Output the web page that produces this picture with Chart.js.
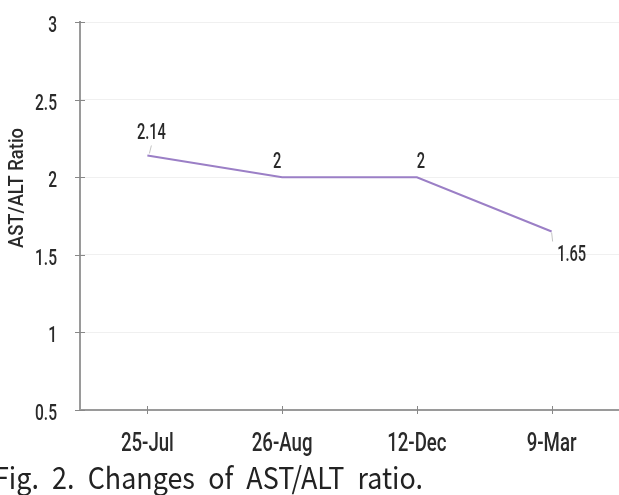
<!DOCTYPE html>
<html>
<head>
<meta charset="utf-8">
<script src="https://cdn.jsdelivr.net/npm/chart.js@4"></script>
<style>
    html, body { margin: 0; padding: 0; background: #fff; overflow: hidden; }
    #wrap { position: relative; width: 619px; height: 495px; }
    #caption {
        position: absolute; left: -6px; top: 458px;
        font-family: "Noto Sans CJK KR", "Noto Sans", sans-serif;
        font-size: 30px; font-weight: 400; color: #222;
        word-spacing: 8px; white-space: nowrap; line-height: 36px;
        transform-origin: 0 0;
    }
</style>
</head>
<body>
<div id="wrap">
    <canvas id="chart" width="619" height="495"></canvas>
    <div id="caption">Fig. 2. Changes of AST/ALT ratio.</div>
</div>
<script>
// chart data
const dates = ['25-Jul', '26-Aug', '12-Dec', '9-Mar'];
const ratios = [2.14, 2, 2, 1.65];
const yTicks = [0.5, 1, 1.5, 2, 2.5, 3];
const yTitle = 'AST/ALT Ratio';

const FONT = 'Roboto, "DejaVu Sans", sans-serif';
const TEXT = '#2a2a2a';

// caption is squeezed to the width it has in the original
const cap = document.getElementById('caption');
cap.style.transform = 'scaleX(' + (429 / cap.getBoundingClientRect().width) + ')';

// the original uses a tall condensed face: work out a horizontal squeeze
// from a sample string and the width it takes in the original
const measureCtx = document.createElement('canvas').getContext('2d');
function squeeze(sample, size, target) {
    measureCtx.font = '500 ' + size + 'px ' + FONT;
    return target / measureCtx.measureText(sample).width;
}
const yTickFont = { size: 22, sx: squeeze('2.5', 22, 22) };
const xTickFont = { size: 25, sx: squeeze('25-Jul', 25, 53) };
const valueFont = { size: 22, sx: squeeze('2.14', 22, 29) };
const titleFont = { size: 21, sx: squeeze(yTitle, 21, 120) };

function narrowText(ctx, text, x, y, f, align, rot) {
    ctx.save();
    ctx.translate(x, y);
    if (rot) ctx.rotate(rot);
    ctx.scale(f.sx, 1);
    ctx.font = '500 ' + f.size + 'px ' + FONT;
    ctx.fillStyle = TEXT;
    ctx.textAlign = align;
    ctx.textBaseline = 'alphabetic';
    ctx.fillText(text, 0, 0);
    ctx.restore();
}

// tick labels, crossing tick marks and the axis title
const axisText = {
    id: 'axisText',
    afterDraw(chart) {
        const ctx = chart.ctx;
        const xs = chart.scales.x, ys = chart.scales.y;
        const area = chart.chartArea;

        ctx.save();
        ctx.strokeStyle = '#888';
        ctx.lineWidth = 1;
        ys.ticks.forEach(t => {
            const py = Math.round(ys.getPixelForValue(t.value)) + 0.5;
            ctx.beginPath();
            ctx.moveTo(area.left - 5, py);
            ctx.lineTo(area.left + 5, py);
            ctx.stroke();
        });
        xs.ticks.forEach((t, i) => {
            const px = Math.round(xs.getPixelForTick(i)) + 0.5;
            ctx.beginPath();
            ctx.moveTo(px, area.bottom - 4);
            ctx.lineTo(px, area.bottom + 4);
            ctx.stroke();
        });
        ctx.restore();

        ys.ticks.forEach(t => {
            const py = ys.getPixelForValue(t.value);
            narrowText(ctx, String(t.value), 57, py + 10, yTickFont, 'right');
        });
        xs.ticks.forEach((t, i) => {
            const px = xs.getPixelForTick(i);
            narrowText(ctx, dates[i], px, 451, xTickFont, 'center');
        });
        narrowText(ctx, yTitle, 23, 188, titleFont, 'center', -Math.PI / 2);
    }
};

// value labels next to each point
const valueLabels = {
    id: 'valueLabels',
    afterDatasetsDraw(chart) {
        const ctx = chart.ctx;
        const pts = chart.getDatasetMeta(0).data;
        const shift = [[4, -16], [-5, -9], [4, -9], [20, 29]];
        pts.forEach((p, i) => {
            narrowText(ctx, String(ratios[i]), p.x + shift[i][0], p.y + shift[i][1], valueFont, 'center');
        });
        // short leader lines like the original
        ctx.save();
        ctx.strokeStyle = '#c4c4c4';
        ctx.lineWidth = 1;
        const first = pts[0], last = pts[pts.length - 1];
        ctx.beginPath();
        ctx.moveTo(first.x + 2, first.y - 2);
        ctx.lineTo(first.x + 4, first.y - 10);
        ctx.moveTo(last.x, last.y + 1);
        ctx.lineTo(last.x + 1, last.y + 10);
        ctx.stroke();
        ctx.restore();
    }
};

new Chart(document.getElementById('chart'), {
    type: 'line',
    data: {
        labels: dates,
        datasets: [{
            data: ratios,
            borderColor: '#9b7fc6',
            borderWidth: 2,
            pointRadius: 0,
            tension: 0,
            fill: false
        }]
    },
    options: {
        responsive: false,
        animation: false,
        layout: { padding: { top: 22, right: 0, bottom: 38, left: 0 } },
        plugins: {
            legend: { display: false },
            tooltip: { enabled: false }
        },
        scales: {
            x: {
                offset: true,
                grid: { display: false },
                border: { color: '#9a9a9a', width: 2 },
                ticks: { display: false },
                afterFit(scale) { scale.height = 47; }
            },
            y: {
                min: 0.5,
                max: 3,
                afterBuildTicks(scale) { scale.ticks = yTicks.map(v => ({ value: v })); },
                grid: { color: '#f0f0f0', drawTicks: false },
                border: { color: '#9a9a9a', width: 2 },
                ticks: { display: false },
                afterFit(scale) { scale.width = 80; }
            }
        }
    },
    plugins: [valueLabels, axisText]
});
</script>
</body>
</html>
